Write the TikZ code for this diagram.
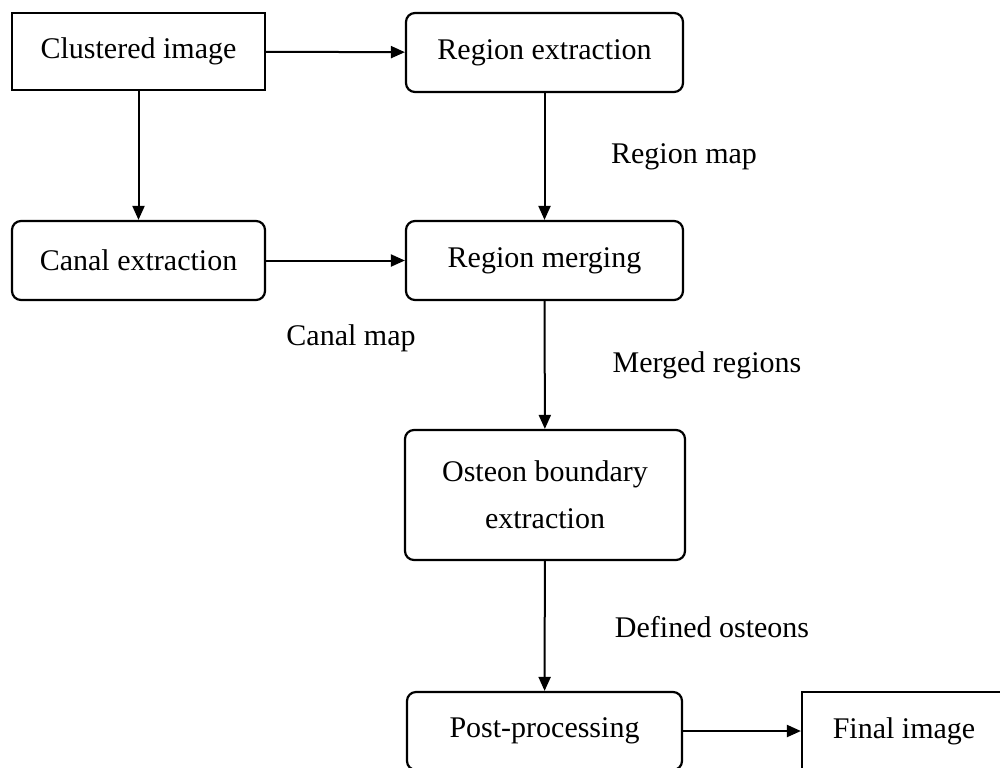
\documentclass[tikz,border=0pt]{standalone}
\usepackage{fontspec}
\setmainfont{Liberation Serif}
\usetikzlibrary{arrows.meta}
\begin{document}
\begin{tikzpicture}[x=0.5pt,y=-0.5pt,
  every node/.style={font=\fontsize{15}{23.5}\selectfont, inner sep=0pt},
  sqbox/.style={draw, line width=1.1pt, minimum width=126.5pt, minimum height=38.5pt},
  rbox/.style={draw, line width=1.1pt, rounded corners=4.5pt, minimum width=138.5pt, minimum height=39.5pt},
  conn/.style={line width=1pt, -{Triangle[length=7pt,width=6pt]}},
  lbl/.style={}]
\useasboundingbox (0,0) rectangle (1000,767);
\node[sqbox] (A) at (138.5,51.5) {Clustered image};
\node[rbox] (B) at (544.5,52.5) {Region extraction};
\node[rbox, minimum width=126.5pt] (C) at (138.5,260.5) {Canal extraction};
\node[rbox] (D) at (544.5,260.5) {Region merging};
\node[rbox, minimum width=140pt, minimum height=65pt, align=center] (E) at (545,495) {Osteon boundary\\extraction};
\node[rbox, minimum width=137.5pt, minimum height=39pt] (F) at (544.5,731) {Post-processing};
\node[sqbox, minimum width=102pt, minimum height=39pt] (G) at (904,731) {Final image};
\draw[conn] (A) -- (B);
\draw[conn] (A) -- (C);
\draw[conn] (B) -- (D);
\draw[conn] (C) -- (D);
\draw[conn] (D) -- (E);
\draw[conn] (E) -- (F);
\draw[conn] (F) -- (G);
\node[lbl] (l1) at (684,157) {Region map};
\node[lbl] (l2) at (351,338) {Canal map};
\node[lbl] (l3) at (707,365) {Merged regions};
\node[lbl] (l4) at (712,627) {Defined osteons};
\end{tikzpicture}
\end{document}
